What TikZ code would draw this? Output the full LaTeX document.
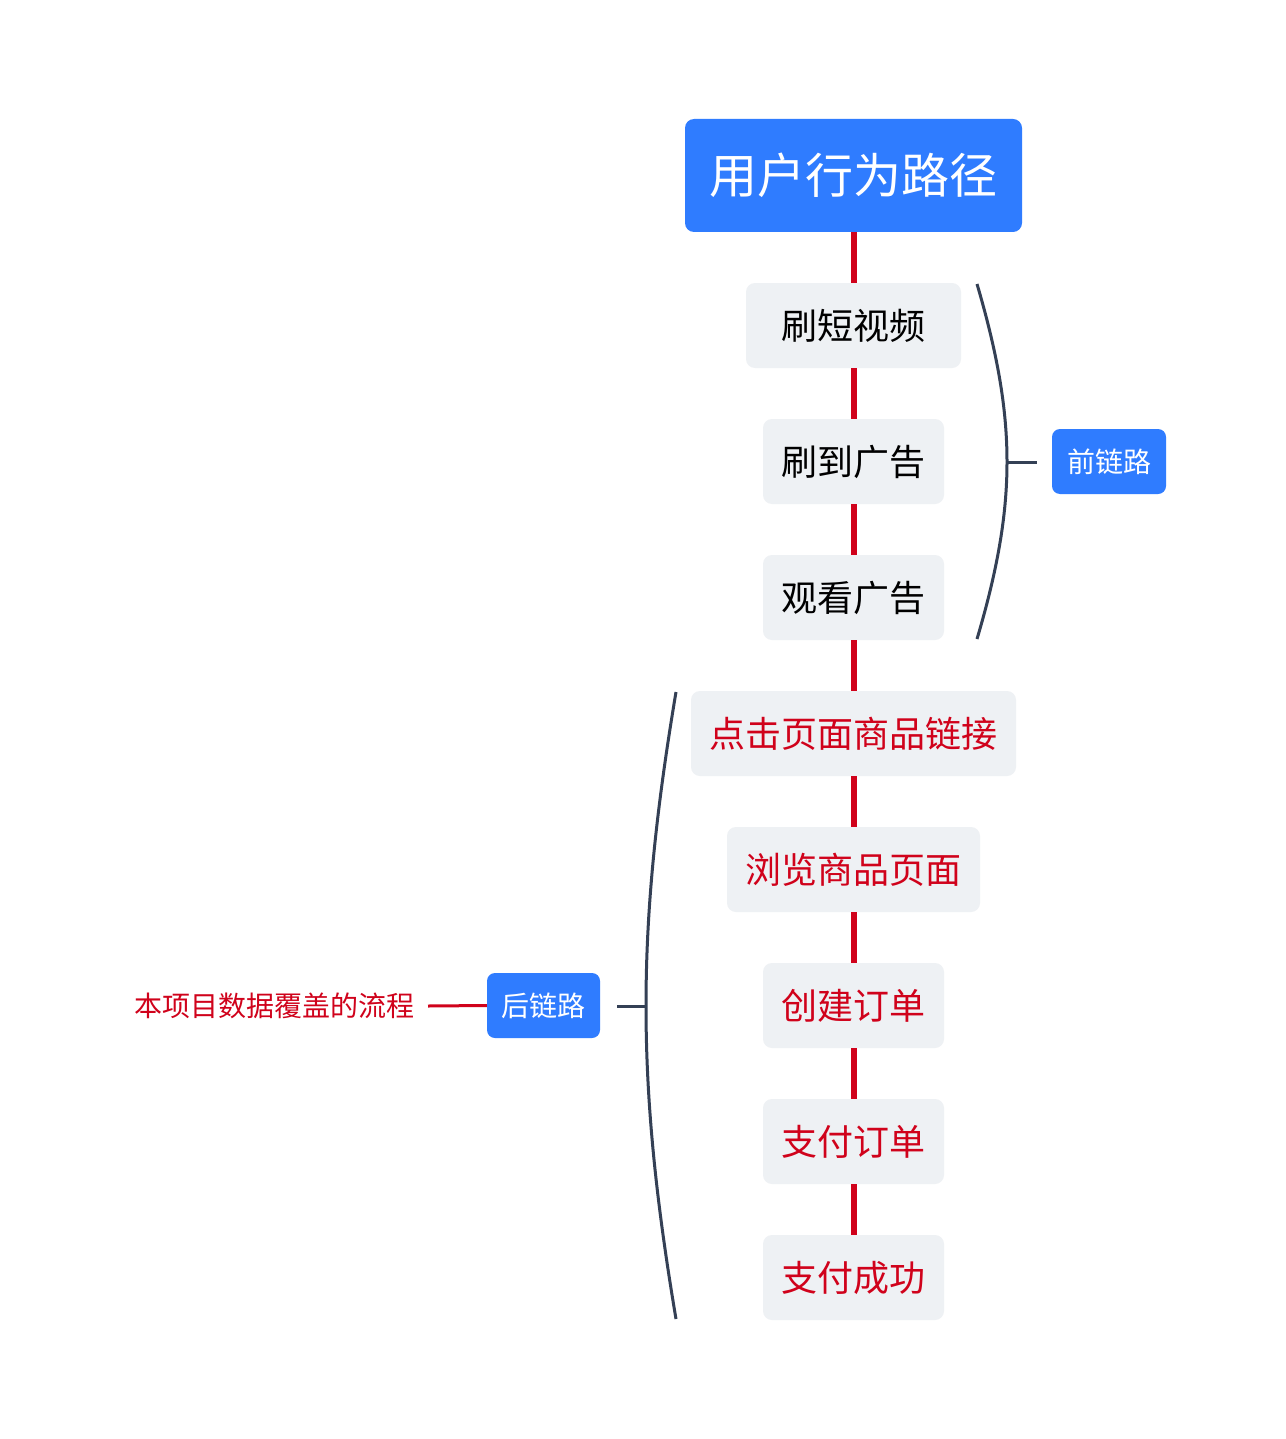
\documentclass[tikz,border=0pt]{standalone}
\usepackage{fontspec}
\setmainfont{Noto Sans CJK SC}
\definecolor{rootblue}{RGB}{47,124,255}
\definecolor{linkred}{RGB}{208,2,27}
\definecolor{boxgrey}{RGB}{238,241,244}
\definecolor{slate}{RGB}{52,64,85}
\begin{document}
\begin{tikzpicture}[x=1pt,y=-1pt,
  rootbox/.style={fill=rootblue,rounded corners=9pt,inner sep=0pt,minimum width=337pt,minimum height=113pt,text=white,font=\fontsize{48}{50}\selectfont},
  stepbox/.style={fill=boxgrey,rounded corners=9pt,inner sep=0pt,minimum height=85pt,font=\fontsize{36}{40}\selectfont},
  blackt/.style={text=black},
  redt/.style={text=linkred},
  tagbox/.style={fill=rootblue,rounded corners=8pt,inner sep=0pt,minimum width=114pt,minimum height=65pt,text=white,font=\fontsize{28}{30}\selectfont},
  redlink/.style={draw=linkred,line width=6pt},
  brace/.style={draw=slate,line width=3pt},
  notelink/.style={draw=linkred,line width=3pt}]
\useasboundingbox (0,0) rectangle (1285,1439);
\fill[white] (0,0) rectangle (1285,1439);
% main column
\node[rootbox] (root) at (853.5,175.5) {用户行为路径};
\node[stepbox,blackt,minimum width=215pt] (s1) at (853.5,325.5) {刷短视频};
\node[stepbox,blackt,minimum width=181pt] (s2) at (853.5,461.5) {刷到广告};
\node[stepbox,blackt,minimum width=181pt] (s3) at (853.5,597.5) {观看广告};
\node[stepbox,redt,minimum width=325pt] (s4) at (853.5,733.5) {点击页面商品链接};
\node[stepbox,redt,minimum width=253pt] (s5) at (853.5,869.5) {浏览商品页面};
\node[stepbox,redt,minimum width=181pt] (s6) at (853.5,1005.5) {创建订单};
\node[stepbox,redt,minimum width=181pt] (s7) at (853.5,1141.5) {支付订单};
\node[stepbox,redt,minimum width=181pt] (s8) at (853.5,1277.5) {支付成功};
\draw[redlink] (root.south) -- (s1.north);
\draw[redlink] (s1.south) -- (s2.north);
\draw[redlink] (s2.south) -- (s3.north);
\draw[redlink] (s3.south) -- (s4.north);
\draw[redlink] (s4.south) -- (s5.north);
\draw[redlink] (s5.south) -- (s6.north);
\draw[redlink] (s6.south) -- (s7.north);
\draw[redlink] (s7.south) -- (s8.north);
% front bracket
\coordinate (fa) at (977,284);
\coordinate (fm) at (1007,462);
\coordinate (fb) at (977,639);
\draw[brace] (fa) .. controls (1017,420) and (1017,504) .. (fb);
\node[tagbox] (front) at (1109,461.5) {前链路};
\draw[brace] (fm) -- (1037,462);
% back bracket
\coordinate (ba) at (676,692);
\coordinate (bm) at (646,1006);
\coordinate (bb) at (676,1319);
\draw[brace] (ba) .. controls (636,930) and (636,1082) .. (bb);
\node[tagbox,minimum width=113pt] (back) at (543.5,1005.5) {后链路};
\draw[brace] (bm) -- (617,1006);
\node[text=linkred,inner sep=0pt,font=\fontsize{28}{30}\selectfont,anchor=east] (note) at (415,1005.5) {本项目数据覆盖的流程};
\draw[notelink] (back.west) -- (428,1006);
\end{tikzpicture}
\end{document}
